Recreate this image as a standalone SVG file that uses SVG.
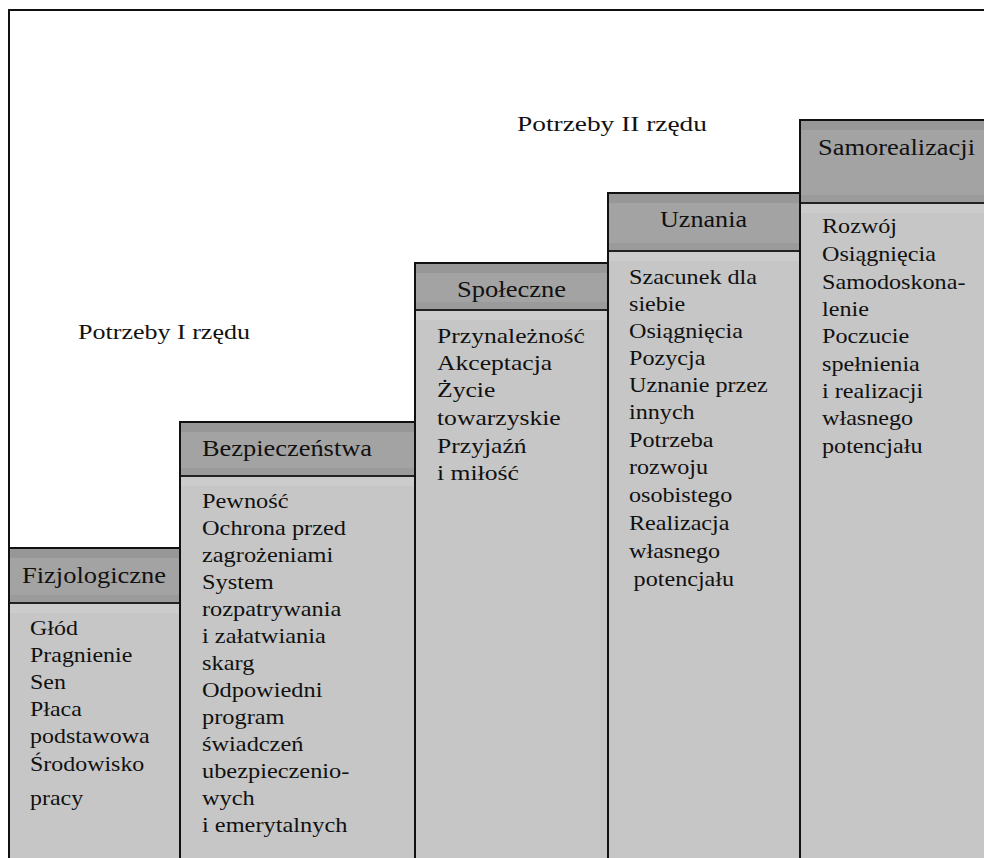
<svg xmlns="http://www.w3.org/2000/svg" width="984" height="858" viewBox="0 0 984 858">
  <style>
    .txt { font-family: "Liberation Serif", "Times New Roman", serif; fill: #111; }
    .body { font-size: 21px; }
    .head { font-size: 24px; }
    .label { font-size: 22px; }
    .hdr { fill: #a3a3a3; }
    .stripe-top { fill: #979797; }
    .stripe-bot { fill: #9b9b9b; }
    .bodyfill { fill: #c6c6c6; }
    .bodyband { fill: #cccccc; }
    .edge { fill: none; stroke: #111; stroke-width: 2; }
    .sep { stroke: #222; stroke-width: 2; }
  </style>

  <rect width="984" height="858" fill="#ffffff"/>

  <!-- outer frame: left and top edges -->
  <g id="frame">
    <path class="edge" d="M9 548 V10 H984"/>
  </g>

  <!-- level labels -->
  <g id="label-second">
    <text class="txt label" x="517" y="131" textLength="190" lengthAdjust="spacingAndGlyphs">Potrzeby II rzędu</text>
  </g>
  <g id="label-first">
    <text class="txt label" x="78" y="339" textLength="172" lengthAdjust="spacingAndGlyphs">Potrzeby I rzędu</text>
  </g>

  <!-- step 1 -->
  <g id="fizjologiczne">
    <rect class="hdr" x="9" y="548" width="171" height="55"/>
    <rect class="stripe-top" x="9" y="548" width="171" height="10"/>
    <rect class="stripe-bot" x="9" y="595" width="171" height="8"/>
    <rect class="bodyfill" x="9" y="603" width="171" height="255"/>
    <rect class="bodyband" x="9" y="604" width="171" height="9"/>
    <line class="sep" x1="9" y1="603" x2="180" y2="603"/>
    <path class="edge" d="M9 858 V548 H180"/>
    <text class="txt head" x="22" y="583" textLength="144" lengthAdjust="spacingAndGlyphs">Fizjologiczne</text>
    <text class="txt body" transform="translate(30 0) scale(1.14 1)">
      <tspan x="0" y="635">Głód</tspan>
      <tspan x="0" y="662">Pragnienie</tspan>
      <tspan x="0" y="689">Sen</tspan>
      <tspan x="0" y="716">Płaca</tspan>
      <tspan x="0" y="743">podstawowa</tspan>
      <tspan x="0" y="771">Środowisko</tspan>
      <tspan x="0" y="805">pracy</tspan>
    </text>
  </g>

  <!-- step 2 -->
  <g id="bezpieczenstwa">
    <rect class="hdr" x="180" y="422" width="235" height="54"/>
    <rect class="stripe-top" x="180" y="422" width="235" height="10"/>
    <rect class="stripe-bot" x="180" y="468" width="235" height="8"/>
    <rect class="bodyfill" x="180" y="476" width="235" height="382"/>
    <rect class="bodyband" x="180" y="477" width="235" height="9"/>
    <line class="sep" x1="180" y1="476" x2="415" y2="476"/>
    <path class="edge" d="M180 858 V422 H415"/>
    <text class="txt head" x="202" y="456" textLength="170" lengthAdjust="spacingAndGlyphs">Bezpieczeństwa</text>
    <text class="txt body" transform="translate(202 0) scale(1.16 1)">
      <tspan x="0" y="508">Pewność</tspan>
      <tspan x="0" y="535">Ochrona przed</tspan>
      <tspan x="0" y="562">zagrożeniami</tspan>
      <tspan x="0" y="589">System</tspan>
      <tspan x="0" y="616">rozpatrywania</tspan>
      <tspan x="0" y="643">i załatwiania</tspan>
      <tspan x="0" y="670">skarg</tspan>
      <tspan x="0" y="697">Odpowiedni</tspan>
      <tspan x="0" y="724">program</tspan>
      <tspan x="0" y="751">świadczeń</tspan>
      <tspan x="0" y="778">ubezpieczenio-</tspan>
      <tspan x="0" y="805">wych</tspan>
      <tspan x="0" y="832">i emerytalnych</tspan>
    </text>
  </g>

  <!-- step 3 -->
  <g id="spoleczne">
    <rect class="hdr" x="415" y="263" width="193" height="47"/>
    <rect class="stripe-top" x="415" y="263" width="193" height="10"/>
    <rect class="stripe-bot" x="415" y="302" width="193" height="8"/>
    <rect class="bodyfill" x="415" y="310" width="193" height="548"/>
    <rect class="bodyband" x="415" y="311" width="193" height="9"/>
    <line class="sep" x1="415" y1="310" x2="608" y2="310"/>
    <path class="edge" d="M415 858 V263 H608"/>
    <text class="txt head" x="457" y="297" textLength="109" lengthAdjust="spacingAndGlyphs">Społeczne</text>
    <text class="txt body" transform="translate(437 0) scale(1.22 1)">
      <tspan x="0" y="343">Przynależność</tspan>
      <tspan x="0" y="370">Akceptacja</tspan>
      <tspan x="0" y="397">Życie</tspan>
      <tspan x="0" y="425">towarzyskie</tspan>
      <tspan x="0" y="453">Przyjaźń</tspan>
      <tspan x="0" y="480">i miłość</tspan>
    </text>
  </g>

  <!-- step 4 -->
  <g id="uznania">
    <rect class="hdr" x="608" y="193" width="192" height="58"/>
    <rect class="stripe-top" x="608" y="193" width="192" height="10"/>
    <rect class="stripe-bot" x="608" y="243" width="192" height="8"/>
    <rect class="bodyfill" x="608" y="251" width="192" height="607"/>
    <rect class="bodyband" x="608" y="252" width="192" height="9"/>
    <line class="sep" x1="608" y1="251" x2="800" y2="251"/>
    <path class="edge" d="M608 858 V193 H800" stroke-width="2.5"/>
    <text class="txt head" x="660" y="227" textLength="87" lengthAdjust="spacingAndGlyphs">Uznania</text>
    <text class="txt body" transform="translate(629 0) scale(1.15 1)">
      <tspan x="0" y="284">Szacunek dla</tspan>
      <tspan x="0" y="311">siebie</tspan>
      <tspan x="0" y="338">Osiągnięcia</tspan>
      <tspan x="0" y="365">Pozycja</tspan>
      <tspan x="0" y="392">Uznanie przez</tspan>
      <tspan x="0" y="419">innych</tspan>
      <tspan x="0" y="447">Potrzeba</tspan>
      <tspan x="0" y="474">rozwoju</tspan>
      <tspan x="0" y="502">osobistego</tspan>
      <tspan x="0" y="530">Realizacja</tspan>
      <tspan x="0" y="558">własnego</tspan>
      <tspan x="4" y="586">potencjału</tspan>
    </text>
  </g>

  <!-- step 5 -->
  <g id="samorealizacji">
    <rect class="hdr" x="800" y="120" width="184" height="83"/>
    <rect class="stripe-top" x="800" y="120" width="184" height="10"/>
    <rect class="stripe-bot" x="800" y="195" width="184" height="8"/>
    <rect class="bodyfill" x="800" y="203" width="184" height="655"/>
    <rect class="bodyband" x="800" y="204" width="184" height="9"/>
    <line class="sep" x1="800" y1="203" x2="984" y2="203"/>
    <path class="edge" d="M800 858 V120 H984"/>
    <text class="txt head" x="818" y="155" textLength="157" lengthAdjust="spacingAndGlyphs">Samorealizacji</text>
    <text class="txt body" transform="translate(822 0) scale(1.15 1)">
      <tspan x="0" y="233">Rozwój</tspan>
      <tspan x="0" y="261">Osiągnięcia</tspan>
      <tspan x="0" y="289">Samodoskona-</tspan>
      <tspan x="0" y="316">lenie</tspan>
      <tspan x="0" y="343">Poczucie</tspan>
      <tspan x="0" y="371">spełnienia</tspan>
      <tspan x="0" y="398">i realizacji</tspan>
      <tspan x="0" y="425">własnego</tspan>
      <tspan x="0" y="453">potencjału</tspan>
    </text>
  </g>
</svg>
